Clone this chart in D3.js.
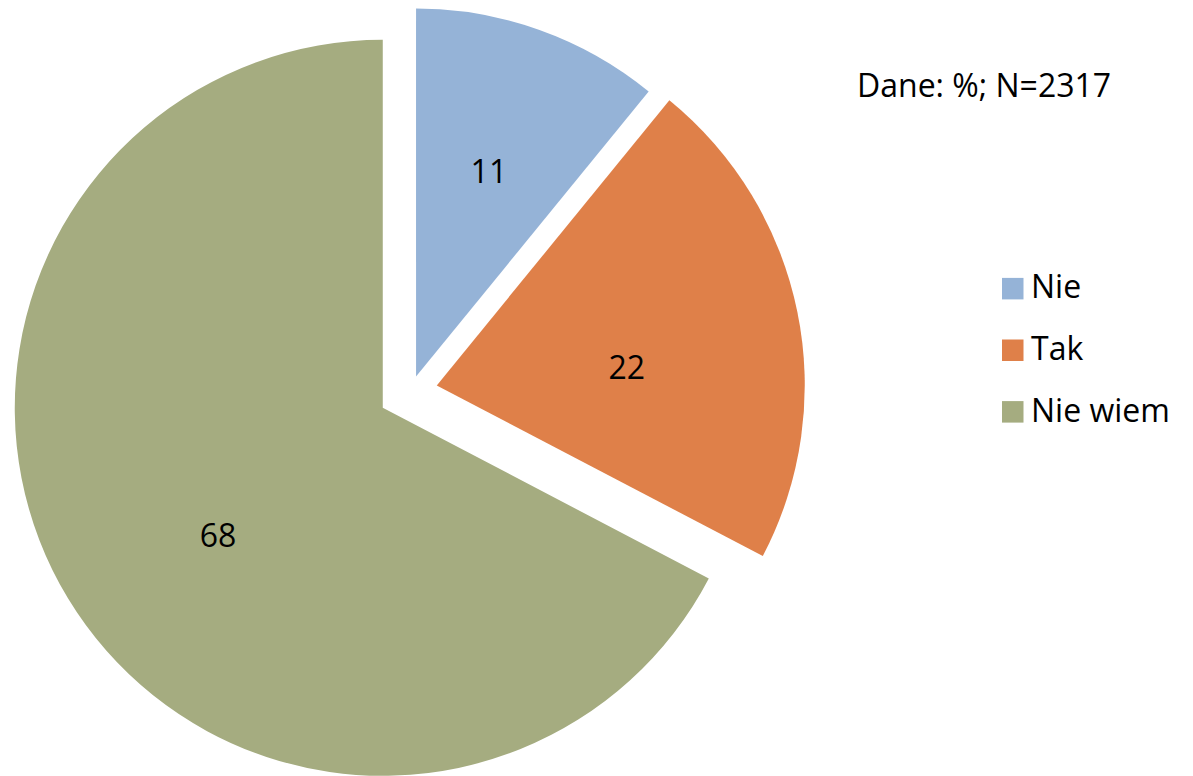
<!DOCTYPE html>
<html>
<head>
<meta charset="utf-8">
<script src="https://cdn.jsdelivr.net/npm/d3@7"></script>
<style>
  html, body { margin: 0; padding: 0; background: #ffffff; }
  svg { display: block; }
  text { font-family: "Open Sans", Carlito, Calibri, Lato, sans-serif; fill: #000; }
</style>
</head>
<body>
<svg id="chart" width="1193" height="776"></svg>
<script>
// ---- data ----
const categories = ["Nie", "Tak", "Nie wiem"];
const values = [11, 22, 68];
const colors = ["#95B3D7", "#DF8049", "#A5AC80"];
const noteText = "Dane: %; N=2317";

// ---- layout / style constants ----
const W = 1193, H = 776;
const center = [411, 390.7];
const radius = 368;
const explode = [15, 26.3, 33];          // px each slice is pulled out
const labelRadius = 0.59 * radius;
const labelNudge = [[0, 0], [-22.6, 25.4], [21, 15.6]];
const fontSize = 32;
const capHalf = 11.4;

const svg = d3.select("#chart");
const g = svg.append("g");

const pie = d3.pie().sort(null).value(d => d.value).startAngle(0).endAngle(2 * Math.PI);
const arc = d3.arc().innerRadius(0).outerRadius(radius);
const rows = categories.map((c, i) => ({ cat: c, value: values[i], i }));
const arcs = pie(rows);

const color = d3.scaleOrdinal().domain(categories).range(colors);

arcs.forEach((a, i) => {
  const mid = (a.startAngle + a.endAngle) / 2;
  const ox = center[0] + explode[i] * Math.sin(mid);
  const oy = center[1] - explode[i] * Math.cos(mid);
  const sg = g.append("g").attr("transform", `translate(${ox},${oy})`);
  sg.append("path").attr("d", arc(a)).attr("fill", color(a.data.cat));
  const lx = labelRadius * Math.sin(mid) + labelNudge[i][0];
  const ly = -labelRadius * Math.cos(mid) + labelNudge[i][1];
  sg.append("text")
    .attr("x", lx).attr("y", ly + capHalf)
    .attr("text-anchor", "middle")
    .style("font-size", fontSize + "px")
    .text(a.data.value);
});

// note
svg.append("text")
  .attr("x", 857).attr("y", 97.3)
  .style("font-size", fontSize + "px")
  .text(noteText);

// legend
const legend = svg.append("g");
categories.forEach((c, i) => {
  const base = 298.4 + i * 61.6;
  legend.append("rect")
    .attr("x", 1002).attr("y", base - 20.5)
    .attr("width", 21.5).attr("height", 21.5)
    .attr("fill", color(c));
  legend.append("text")
    .attr("x", 1031).attr("y", base)
    .style("font-size", fontSize + "px")
    .text(c);
});
</script>
</body>
</html>
